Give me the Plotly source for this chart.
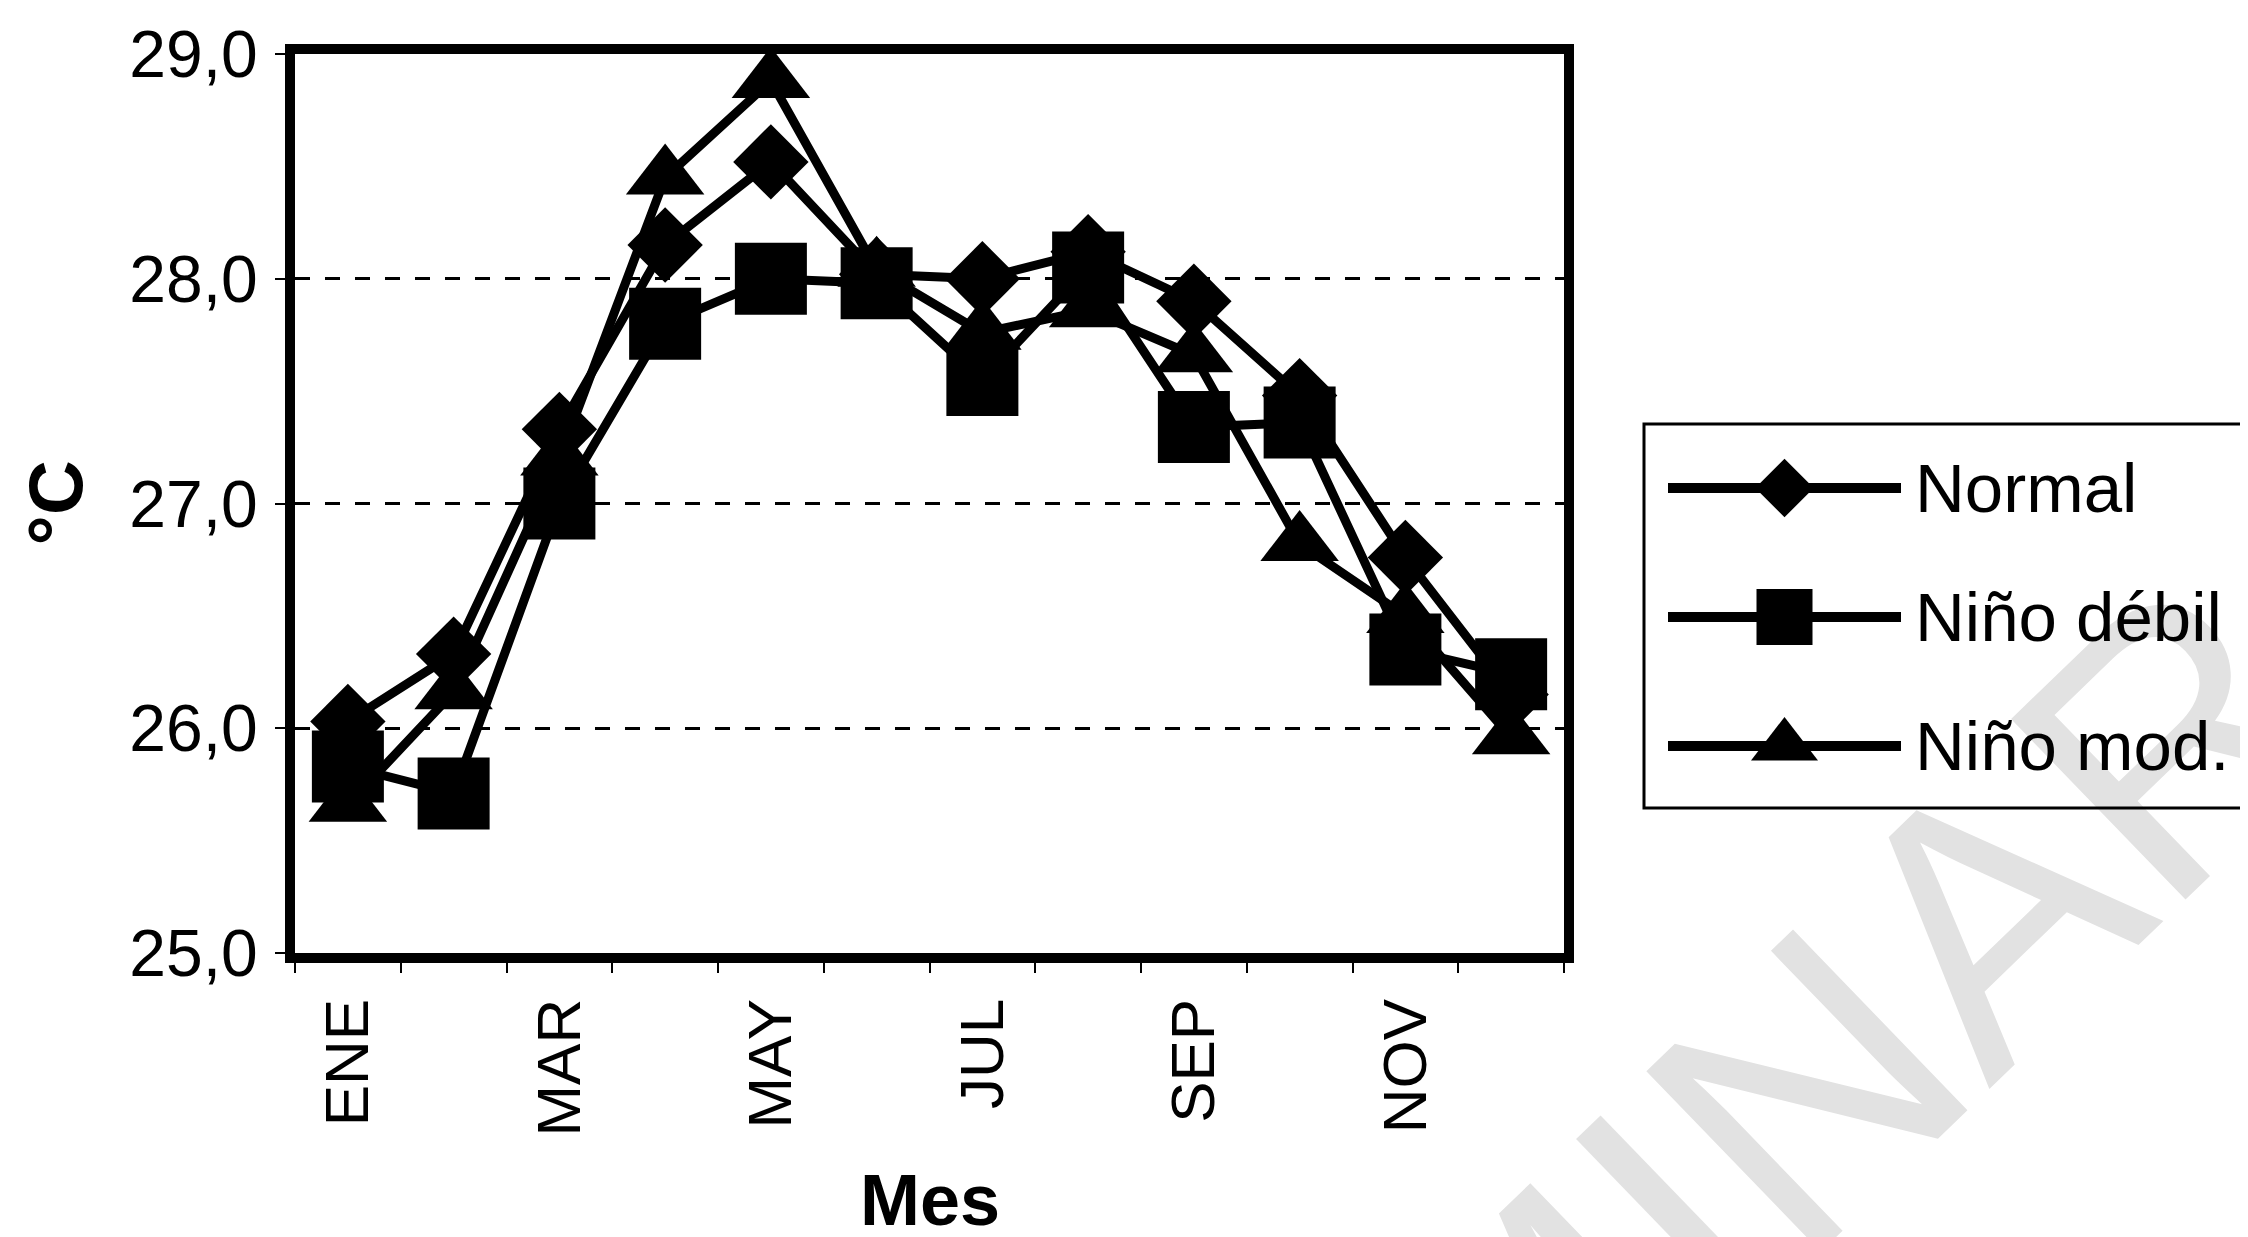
import plotly.graph_objects as go

# ---------------- data ----------------
months = ["ENE", "FEB", "MAR", "ABR", "MAY", "JUN", "JUL", "AGO", "SEP", "OCT", "NOV", "DIC"]
labeled_months = ["ENE", "MAR", "MAY", "JUL", "SEP", "NOV"]
normal = [26.03, 26.33, 27.33, 28.15, 28.52, 28.02, 28.00, 28.12, 27.90, 27.48, 26.76, 26.15]
nino_debil = [25.83, 25.71, 27.00, 27.80, 28.00, 27.98, 27.55, 28.05, 27.34, 27.36, 26.35, 26.24]
nino_mod = [25.66, 26.16, 27.20, 28.45, 28.88, 28.04, 27.76, 27.86, 27.66, 26.82, 26.50, 25.96]
series_names = ["Normal", "Niño débil", "Niño mod."]
y_ticks = [25, 26, 27, 28, 29]

W, H = 2248, 1237
# plot area in pixels
PL, PR, PT, PB = 287, 1556, 46, 945

symbols = ["diamond", "square", "triangle-up"]
chart_sizes = [58, 72, 68]
legend_sizes = [45, 56, 58]
series_vals = [normal, nino_debil, nino_mod]

x_idx = list(range(len(months)))

fig = go.Figure()
for name, vals, sym, sz in zip(series_names, series_vals, symbols, chart_sizes):
    fig.add_trace(go.Scatter(
        x=x_idx, y=vals, name=name, mode="lines+markers",
        line=dict(color="black", width=9),
        marker=dict(symbol=sym, size=sz, color="black", line=dict(width=0)),
        showlegend=False, xaxis="x", yaxis="y",
    ))

# ---------------- custom legend (pixel-coordinate helper axes) ----------------
LG_X0, LG_X1 = 1600, W
LG_Y0, LG_Y1 = 390, 830
row_y = [480, 609, 738]
key_x0, key_x1 = 1660, 1893
text_x = 1905
for name, sym, sz, ry in zip(series_names, symbols, legend_sizes, row_y):
    fig.add_trace(go.Scatter(x=[key_x0, key_x1], y=[ry, ry], mode="lines",
                             line=dict(color="black", width=10),
                             showlegend=False, hoverinfo="skip", xaxis="x2", yaxis="y2"))
    fig.add_trace(go.Scatter(x=[(key_x0 + key_x1) / 2], y=[ry], mode="markers",
                             marker=dict(symbol=sym, size=sz, color="black"),
                             showlegend=False, hoverinfo="skip", xaxis="x2", yaxis="y2"))
    fig.add_annotation(x=text_x, y=ry, xref="x2", yref="y2", text=name, showarrow=False,
                       xanchor="left", yanchor="middle",
                       font=dict(size=69, color="black", family="Liberation Sans, Arial, sans-serif"))

fig.add_shape(type="rect", xref="x2", yref="y2", x0=1636, x1=2300, y0=416, y1=800,
              line=dict(color="black", width=3), fillcolor="rgba(0,0,0,0)")

# ---------------- watermark ----------------
wm_cx, wm_cy = 1431, 1388
fig.add_shape(type="rect", xref="paper", yref="paper",
              x0=wm_cx / W - 0.001, x1=wm_cx / W + 0.001,
              y0=(H - wm_cy) / H - 0.001, y1=(H - wm_cy) / H + 0.001,
              line=dict(width=0), fillcolor="rgba(0,0,0,0)", layer="below",
              label=dict(text="PRELIMINAR", textangle=-44, textposition="middle center",
                         font=dict(size=365, color="#e2e2e2",
                                   family="Liberation Sans, Arial, sans-serif")))

# ---------------- axis titles ----------------
fig.add_annotation(x=(PL + PR) / 2 / W, y=4 / H, xref="paper", yref="paper",
                   text="<b>Mes</b>", showarrow=False, xanchor="center", yanchor="bottom",
                   borderpad=0,
                   font=dict(size=72, color="black", family="Liberation Sans, Arial, sans-serif"))
fig.add_annotation(x=47 / W, y=(H - (PT + PB) / 2) / H, xref="paper", yref="paper",
                   text="<b>°C</b>", showarrow=False, textangle=-90, xanchor="center", yanchor="middle",
                   font=dict(size=76, color="black", family="Liberation Sans, Arial, sans-serif"))

fig.update_layout(
    width=W, height=H,
    margin=dict(l=0, r=0, t=0, b=0),
    paper_bgcolor="white", plot_bgcolor="rgba(0,0,0,0)",
    separators=",.",
    showlegend=False,
    font=dict(family="Liberation Sans, Arial, sans-serif", color="black"),
    xaxis=dict(
        domain=[PL / W, PR / W], range=[-0.5, len(months) - 0.5],
        tickmode="array", tickvals=[months.index(m) for m in labeled_months], ticktext=labeled_months,
        tickangle=-90, tickfont=dict(size=62, color="black"),
        ticks="", showgrid=False, zeroline=False,
        showline=True, linewidth=10, linecolor="black", mirror=True,
        minor=dict(tickmode="array", tickvals=[i - 0.5 for i in range(len(months) + 1)],
                   ticks="outside", ticklen=10, tickwidth=2, tickcolor="black", showgrid=False),
        ticklabelstandoff=11, automargin=False, fixedrange=True, anchor="y",
    ),
    yaxis=dict(
        domain=[(H - PB) / H, (H - PT) / H], range=[25, 29],
        tickmode="array", tickvals=y_ticks, tickformat=".1f",
        tickfont=dict(size=66, color="black"),
        ticks="outside", ticklen=10, tickwidth=2, tickcolor="black",
        showgrid=True, gridcolor="black", gridwidth=3, griddash="15px,15px",
        zeroline=False, showline=True, linewidth=10, linecolor="black", mirror=True,
        ticklabelstandoff=4, automargin=False, fixedrange=True, anchor="x",
    ),
    xaxis2=dict(domain=[LG_X0 / W, 1], range=[LG_X0, LG_X1], visible=False, anchor="y2", fixedrange=True),
    yaxis2=dict(domain=[(H - LG_Y1) / H, (H - LG_Y0) / H], range=[LG_Y1, LG_Y0], visible=False,
                anchor="x2", fixedrange=True),
)

fig.write_html("out.html")
